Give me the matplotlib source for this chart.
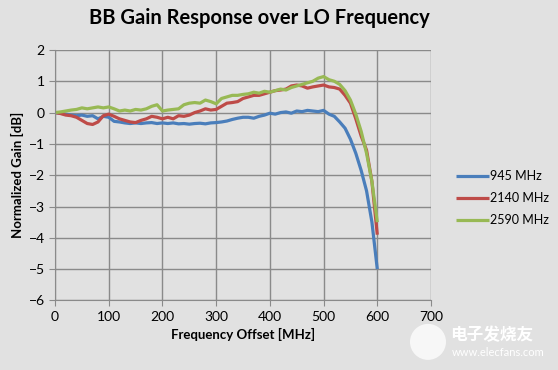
import matplotlib
matplotlib.use("Agg")
import matplotlib.pyplot as plt
from matplotlib.patches import Ellipse

# Frequency offset in MHz, 10 MHz steps
freq = list(range(0, 610, 10))

# Normalized gain [dB]
gain_945 = [0, -0.02, -0.05, -0.08, -0.1, -0.08, -0.12, -0.1, -0.2, -0.12,
            -0.15, -0.28, -0.3, -0.33, -0.35, -0.33, -0.35, -0.33, -0.32, -0.35,
            -0.33, -0.35, -0.33, -0.36, -0.35, -0.37, -0.35, -0.34, -0.36, -0.33,
            -0.32, -0.3, -0.27, -0.22, -0.18, -0.15, -0.15, -0.18, -0.12, -0.08,
            -0.02, -0.05, 0.0, 0.02, -0.02, 0.05, 0.03, 0.07, 0.05, 0.03,
            0.07, -0.05, -0.12, -0.3, -0.5, -0.85, -1.3, -1.85, -2.5, -3.5,
            -5.0]
gain_2140 = [0, -0.03, -0.08, -0.1, -0.15, -0.25, -0.35, -0.38, -0.3, -0.1,
             -0.05, -0.12, -0.2, -0.25, -0.3, -0.32, -0.25, -0.2, -0.12, -0.15,
             -0.2, -0.15, -0.2, -0.1, -0.12, -0.08, 0.0, 0.05, 0.12, 0.08,
             0.1, 0.2, 0.3, 0.32, 0.35, 0.45, 0.5, 0.55, 0.55, 0.6,
             0.65, 0.7, 0.72, 0.75, 0.85, 0.88, 0.85, 0.78, 0.82, 0.85,
             0.88, 0.82, 0.8, 0.75, 0.55, 0.3, -0.2, -0.75, -1.2, -2.2,
             -3.9]
gain_2590 = [0, 0.02, 0.05, 0.08, 0.1, 0.15, 0.12, 0.15, 0.18, 0.15,
             0.18, 0.12, 0.05, 0.08, 0.05, 0.1, 0.08, 0.12, 0.2, 0.25,
             0.05, 0.08, 0.1, 0.12, 0.25, 0.3, 0.32, 0.3, 0.4, 0.35,
             0.28, 0.45, 0.5, 0.55, 0.55, 0.58, 0.6, 0.65, 0.62, 0.68,
             0.65, 0.7, 0.75, 0.72, 0.8, 0.85, 0.9, 0.95, 1.0, 1.1,
             1.15, 1.05, 1.0, 0.9, 0.7, 0.4, -0.05, -0.6, -1.3, -2.2,
             -3.5]

labels = ["945 MHz", "2140 MHz", "2590 MHz"]
colors = ["#4a7ebb", "#be4b48", "#98b954"]

bg = "#e1e1e1"
plt.rcParams['font.family'] = ['Lato', 'DejaVu Sans']

fig = plt.figure(figsize=(5.58, 3.70), dpi=100, facecolor=bg)
ax = fig.add_axes([0.0986, 0.188, 0.6738, 0.677], facecolor=bg)

for g, lab, c in zip([gain_945, gain_2140, gain_2590], labels, colors):
    ax.plot(freq, g, color=c, lw=2.3, label=lab, solid_capstyle='butt')

ax.set_xlim(0, 700)
ax.set_ylim(-6, 2)
ax.set_xticks(range(0, 800, 100))
ax.set_yticks(range(-6, 3, 1))
ax.grid(True, color="#8a8a8a", lw=1.0)
ax.set_axisbelow(True)
for s in ["top", "right"]:
    ax.spines[s].set_visible(False)
for s in ["left", "bottom"]:
    ax.spines[s].set_color("#8a8a8a")
ax.tick_params(colors="#8a8a8a", labelcolor="black", labelsize=10, length=4)

ax.set_xlabel("Frequency Offset [MHz]", fontsize=9.5, fontweight="bold", labelpad=4)
ax.set_ylabel("Normalized Gain [dB]", fontsize=9.5, fontweight="bold", labelpad=3)
fig.text(0.465, 0.95, "BB Gain Response over LO Frequency", ha="center", va="center",
         fontsize=14.5, fontweight="bold")

fig.legend(loc="center left", bbox_to_anchor=(0.818, 0.465), frameon=False,
           borderpad=0, borderaxespad=0, fontsize=9, handlelength=2.6,
           handletextpad=0.1, labelspacing=0.8)

# watermark
fig.patches.append(Ellipse((0.767, 0.076), 36 / 558, 36 / 370, transform=fig.transFigure,
                           facecolor="white", alpha=0.75, edgecolor="none", zorder=0))
fig.text(0.806, 0.095, "电子发烧友", family=['Noto Sans CJK SC', 'DejaVu Sans'],
         fontsize=12, color="white", fontweight="bold", va="center")
fig.text(0.81, 0.046, "www.elecfans.com", fontsize=8, color="white", va="center")

fig.savefig("out.png", dpi=100, facecolor=bg)
